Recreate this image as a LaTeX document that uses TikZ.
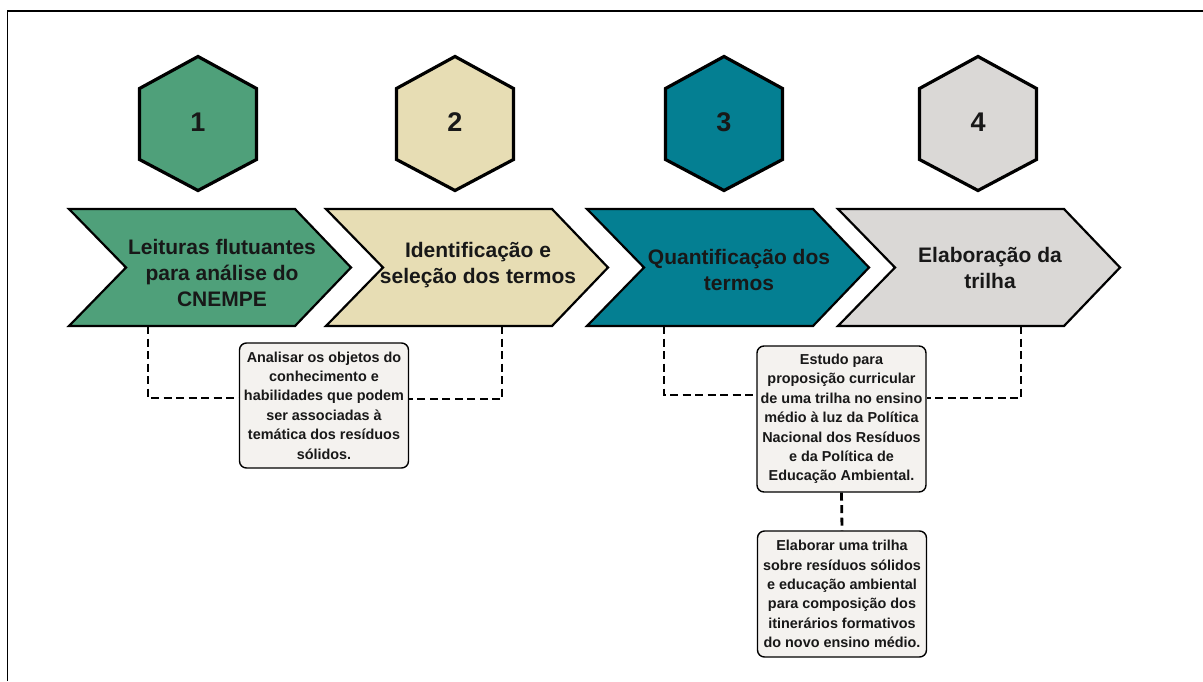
\documentclass[tikz,border=0pt]{standalone}
\usepackage{fontspec}
\setmainfont{Liberation Sans}
\definecolor{cgreen}{RGB}{79,160,122}
\definecolor{ctan}{RGB}{231,221,180}
\definecolor{cteal}{RGB}{4,127,146}
\definecolor{cgray}{RGB}{218,216,214}
\definecolor{cbox}{RGB}{244,242,239}
\definecolor{ctext}{RGB}{24,24,24}
\tikzset{
  hexshape/.style={draw=black, line width=3.2pt, line join=miter},
  chevshape/.style={draw=black, line width=2.2pt, line join=miter},
  numtext/.style={text=ctext, font=\fontsize{27}{32}\selectfont\bfseries, inner sep=0pt},
  chevtext/.style={text=ctext, align=center, font=\fontsize{21}{26}\selectfont\bfseries, inner sep=0pt},
  notebox/.style={draw=black, line width=1.4pt, rounded corners=7pt, fill=cbox, text=ctext,
    align=center, font=\fontsize{14.4}{19.4}\selectfont\bfseries, minimum width=169pt, inner sep=2pt},
  dashlink/.style={draw=black, line width=2.8pt, dash pattern=on 8pt off 4.5pt}
}
\begin{document}
\begin{tikzpicture}[x=1pt,y=-1pt]
\useasboundingbox (0,0) rectangle (1203,681);
\fill[white] (0,0) rectangle (1203,681);
% outer frame (only top and left visible)
\draw[line width=1.6pt] (7.5,681) -- (7.5,11) -- (1203,11);

% hexagons
\foreach \cx/\col/\num/\nm in {198/cgreen/1/h1, 455/ctan/2/h2, 724/cteal/3/h3, 978/cgray/4/h4}{
  \draw[hexshape, fill=\col] (\cx,56.5) -- (\cx+58.5,88.5) -- (\cx+58.5,159.5) -- (\cx,190.5) -- (\cx-58.5,159.5) -- (\cx-58.5,88.5) -- cycle;
  \node[numtext] (\nm) at (\cx,122) {\num};
}

% chevrons
\foreach \L/\col in {69/cgreen, 326/ctan, 587/cteal, 838/cgray}{
  \draw[chevshape, fill=\col] (\L,209) -- (\L+226,209) -- (\L+282,267.5) -- (\L+226,326) -- (\L,326) -- (\L+57,267.5) -- cycle;
}
\node[chevtext] (c1) at (222,273) {Leituras flutuantes\\para análise do\\CNEMPE};
\node[chevtext] (c2) at (478,265.5) {Identificação e\\seleção dos termos};
\node[chevtext] (c3) at (739,269.5) {Quantificação dos\\termos};
\node[chevtext] (c4) at (990,267.5) {Elaboração da\\trilha};

% attachment points on the chevron bottoms
\coordinate (c1b) at (148,326);
\coordinate (c2b) at (502,326);
\coordinate (c3b) at (664,326);
\coordinate (c4b) at (1021,326);
\coordinate (j1) at (148,398);
\coordinate (j2) at (502,399);
\coordinate (j3) at (664,395);
\coordinate (j4) at (1021,398);

% note boxes
\node[notebox, minimum height=125pt] (b1) at (324,405.5) {Analisar os objetos do\\conhecimento e\\habilidades que podem\\ser associadas à\\temática dos resíduos\\sólidos.};
\node[notebox, minimum height=146pt] (b2) at (841.5,419) {Estudo para\\proposição curricular\\de uma trilha no ensino\\médio à luz da Política\\Nacional dos Resíduos\\e da Política de\\Educação Ambiental.};
\node[notebox, minimum height=126pt] (b3) at (842,594) {Elaborar uma trilha\\sobre resíduos sólidos\\e educação ambiental\\para composição dos\\itinerários formativos\\do novo ensino médio.};

% dashed connectors
\draw[dashlink] (c1b) -- (j1) -- (b1.west |- j1);
\draw[dashlink] (c2b) -- (j2) -- (b1.east |- j2);
\draw[dashlink] (c3b) -- (j3) -- (b2.west |- j3);
\draw[dashlink] (c4b) -- (j4) -- (b2.east |- j4);
\draw[dashlink] (b2.south) -- (b3.north);
\end{tikzpicture}
\end{document}
